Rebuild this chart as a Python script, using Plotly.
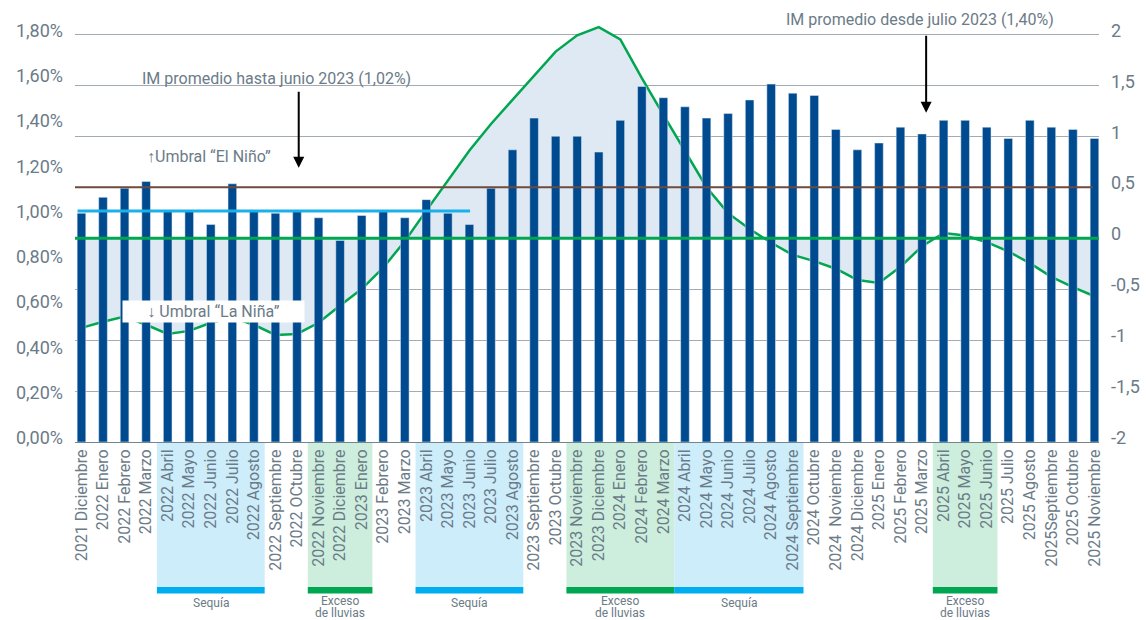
import plotly.graph_objects as go

months = [
    "2021 Diciembre", "2022 Enero", "2022 Febrero", "2022 Marzo", "2022 Abril", "2022 Mayo",
    "2022 Junio", "2022 Julio", "2022 Agosto", "2022 Septiembre", "2022 OCtubre", "2022 Noviembre",
    "2022 Diciembre", "2023 Enero", "2023 Febrero", "2023 Marzo", "2023 Abril", "2023 Mayo",
    "2023 Junio", "2023 Julio", "2023 Agosto", "2023 Septiembre", "2023 Octubre", "2023 Noviembre",
    "2023 Diciembre", "2024 Enero", "2024 Febrero", "2024 Marzo", "2024 Abril", "2024 Mayo",
    "2024 Junio", "2024 Julio", "2024 Agosto", "2024 Septiembre", "2024 Octubre", "2024\u00a0 Noviembre",
    "2024 Diciembre", "2025 Enero", "2025 Febrero", "2025 Marzo", "2025 Abril", "2025 Mayo",
    "2025 Junio", "2025 Julio", "2025 Agosto", "2025Septiembre", "2025 Octubre", "2025 Noviembre",
]

# IM mensual (%), eje izquierdo
im_mensual = [
    1.01, 1.08, 1.12, 1.15, 1.02, 1.02, 0.96, 1.14, 1.02, 1.01, 1.02, 0.99,
    0.89, 1.00, 1.02, 0.99, 1.07, 1.01, 0.96, 1.12, 1.29, 1.43, 1.35, 1.35,
    1.28, 1.42, 1.57, 1.52, 1.48, 1.43, 1.45, 1.51, 1.58, 1.54, 1.53, 1.38,
    1.29, 1.32, 1.39, 1.36, 1.42, 1.42, 1.39, 1.34, 1.42, 1.39, 1.38, 1.34,
]

# indice ENSO, eje derecho
oni = [
    -0.88, -0.82, -0.77, -0.85, -0.94, -0.91, -0.83, -0.78, -0.85, -0.95, -0.94, -0.83,
    -0.66, -0.50, -0.29, -0.03, 0.27, 0.57, 0.86, 1.12, 1.36, 1.59, 1.83, 1.99,
    2.07, 1.95, 1.57, 1.21, 0.85, 0.50, 0.245, 0.09, -0.045, -0.165, -0.225, -0.30,
    -0.41, -0.44, -0.28, -0.08, 0.05, 0.025, -0.04, -0.13, -0.245, -0.38, -0.48, -0.57,
]

avg_hasta_jun23 = 1.02
umbral_nino = 0.5
umbral_cero = 0.0

# periodos (indice inicio, indice fin, tipo)
periodos = [
    (4, 8, "sequia"), (11, 13, "exceso"), (16, 20, "sequia"),
    (23, 27, "exceso"), (28, 33, "sequia"), (40, 42, "exceso"),
]

left_vals = [0, 0.2, 0.4, 0.6, 0.8, 1.0, 1.2, 1.4, 1.6, 1.8]
left_text = ["0,00%", "0,20%", "0,40%", "0,60%", "0,80%", "1,00%", "1,20%", "1,40%", "1,60%", "1,80%"]
right_vals = [-2, -1.5, -1, -0.5, 0, 0.5, 1, 1.5, 2]
right_text = ["-2", "-1,5", "-1", "-0,5", "0", "0,5", "1", "1,5", "2"]

FONT = "Roboto"
GRAY = "#6b7b88"
BAR_BLUE = "#004a8f"
GREEN = "#00a650"
BROWN = "#6f4a3e"
LIGHT_BLUE = "#1ab1ea"

fig = go.Figure()

fig.add_trace(go.Scatter(
    x=months, y=oni, mode="lines", line=dict(color=GREEN, width=2.5),
    fill="tozeroy", fillcolor="#dfe9f4", yaxis="y", showlegend=False,
))
fig.add_trace(go.Bar(
    x=months, y=im_mensual, marker_color=BAR_BLUE, width=0.4, yaxis="y2", showlegend=False,
))

shapes = []
annotations = []

# lineas de referencia
shapes.append(dict(type="line", xref="paper", x0=0, x1=1, yref="y", y0=umbral_cero, y1=umbral_cero,
                   line=dict(color=GREEN, width=3), layer="above"))
shapes.append(dict(type="line", xref="paper", x0=0, x1=0.994, yref="y", y0=umbral_nino, y1=umbral_nino,
                   line=dict(color=BROWN, width=2), layer="above"))
shapes.append(dict(type="line", xref="x", x0=-0.18, x1=18.03, yref="y2", y0=avg_hasta_jun23, y1=avg_hasta_jun23,
                   line=dict(color=LIGHT_BLUE, width=3), layer="above"))

# bandas bajo el eje
small = dict(family=FONT, size=12, color=GRAY)
for a, b, kind in periodos:
    fill = "#cdedfb" if kind == "sequia" else "#cdeedd"
    strip = "#00aeef" if kind == "sequia" else "#00a651"
    shapes.append(dict(type="rect", xref="x", x0=a - 0.5, x1=b + 0.5, yref="paper", y0=0, y1=-0.3428,
                       fillcolor=fill, line_width=0, layer="below"))
    shapes.append(dict(type="rect", xref="x", x0=a - 0.5, x1=b + 0.5, yref="paper", y0=-0.3428, y1=-0.3582,
                       fillcolor=strip, line_width=0, layer="below"))
    xc = (a + b) / 2
    if kind == "sequia":
        annotations.append(dict(x=xc, xref="x", y=-0.3795, yref="paper", yanchor="middle", text="Sequía",
                                showarrow=False, font=small, borderpad=0))
    else:
        annotations.append(dict(x=xc, xref="x", y=-0.3760, yref="paper", yanchor="middle", text="Exceso",
                                showarrow=False, font=small, borderpad=0))
        annotations.append(dict(x=xc, xref="x", y=-0.4045, yref="paper", yanchor="middle", text="de lluvias",
                                showarrow=False, font=small, borderpad=0))

txt = dict(family=FONT, size=16, color=GRAY)
annotations += [
    dict(x=9.07, xref="x", y=1.57, yref="y", text="IM promedio hasta junio 2023 (1,02%)", showarrow=False, font=txt),
    dict(x=10.08, xref="x", y=0.69, yref="y", ax=10.08, axref="x", ay=1.45, ayref="y", text="",
         showarrow=True, arrowhead=2, arrowsize=1.1, arrowwidth=2, arrowcolor="black"),
    dict(x=5.92, xref="x", y=0.80, yref="y", text="↑Umbral “El Niño”", showarrow=False, font=txt),
    dict(x=6.13, xref="x", y=-0.716, yref="y", text="↓ Umbral “La Niña”", showarrow=False, font=txt,
         bgcolor="white", width=179, height=19),
    dict(x=38.89, xref="x", y=2.147, yref="y", text="IM promedio desde julio 2023 (1,40%)", showarrow=False, font=txt),
    dict(x=39.19, xref="x", y=1.23, yref="y", ax=39.19, axref="x", ay=2.0, ayref="y", text="",
         showarrow=True, arrowhead=2, arrowsize=1.1, arrowwidth=2, arrowcolor="black"),
]

fig.update_layout(
    width=1146, height=620,
    margin=dict(l=75, r=47, t=19, b=178, autoexpand=False),
    paper_bgcolor="white", plot_bgcolor="white",
    font=dict(family=FONT, color=GRAY),
    showlegend=False,
    shapes=shapes, annotations=annotations,
    xaxis=dict(type="category", range=[-0.3, 47.21], tickangle=-90, tickfont=dict(size=16, color=GRAY),
               showgrid=False, showline=True, linecolor="#75858f", linewidth=1, ticks="", automargin=False),
    yaxis=dict(side="right", range=[-2, 2.15], tickvals=right_vals, ticktext=right_text,
               showgrid=True, gridcolor="#a2abb1", gridwidth=1.2, zeroline=False, automargin=False,
               tickfont=dict(size=18, color=GRAY), ticklabelstandoff=11, ticklabelshift=-4),
    yaxis2=dict(side="left", overlaying="y", range=[0, 1.8675], tickvals=left_vals, ticktext=left_text,
                showgrid=False, zeroline=False, automargin=False,
                tickfont=dict(size=18, color=GRAY), ticklabelstandoff=11, ticklabelshift=-4),
)

# quitar el margen por defecto del <body> para que la figura ocupe la ventana
fig.write_html("out.html", config={"displayModeBar": False},
               post_script="document.body.style.margin='0';")
